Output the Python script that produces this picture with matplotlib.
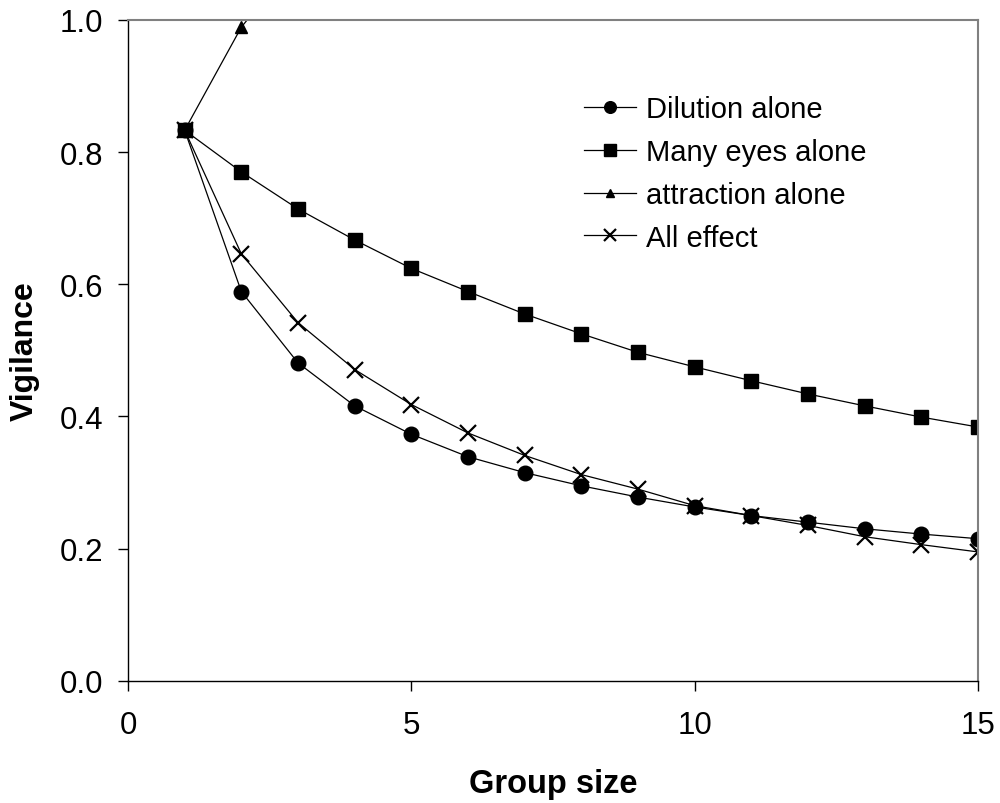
import matplotlib
matplotlib.use("Agg")
import matplotlib.pyplot as plt

plt.rcParams['font.family'] = ['Liberation Sans', 'DejaVu Sans']

group_size = list(range(1, 16))
dilution = [0.833, 0.589, 0.481, 0.416, 0.373, 0.339, 0.315, 0.295, 0.278,
            0.263, 0.250, 0.240, 0.230, 0.222, 0.215]
many_eyes = [0.833, 0.770, 0.714, 0.667, 0.624, 0.589, 0.555, 0.525, 0.497,
             0.475, 0.454, 0.434, 0.416, 0.399, 0.384]
attraction_x = [1, 2, 3]
attraction = [0.833, 0.989, 1.095]
all_effect = [0.833, 0.646, 0.542, 0.471, 0.418, 0.375, 0.341, 0.312, 0.290,
              0.265, 0.250, 0.235, 0.218, 0.206, 0.195]

x_ticks = [0, 5, 10, 15]
y_ticks = [0.0, 0.2, 0.4, 0.6, 0.8, 1.0]

fig = plt.figure(figsize=(10, 8.04), dpi=100)
ax = fig.add_axes([0.128, 0.152, 0.850, 0.822])

lw = 0.9
ax.plot(group_size, dilution, color='black', lw=lw, marker='o', ms=10.5,
        label='Dilution alone')
ax.plot(group_size, many_eyes, color='black', lw=lw, marker='s', ms=10.5,
        label='Many eyes alone')
ax.plot(attraction_x, attraction, color='black', lw=lw, marker='^', ms=8,
        label='attraction alone')
ax.plot(group_size, all_effect, color='black', lw=lw, marker='x', ms=11,
        mew=1.6, label='All effect')

ax.set_xlim(0, 15)
ax.set_ylim(0, 1.0)
ax.set_xticks(x_ticks)
ax.set_xticklabels([str(t) for t in x_ticks])
ax.set_yticks(y_ticks)
ax.set_yticklabels([f"{t:.1f}" for t in y_ticks])

ax.tick_params(axis='both', direction='out', length=7, width=1, labelsize=22.5,
               colors='black')
ax.tick_params(axis='y', pad=11)
ax.tick_params(axis='x', pad=14)

for s in ['left', 'bottom']:
    ax.spines[s].set_color('black')
    ax.spines[s].set_linewidth(1.0)
for s in ['top', 'right']:
    ax.spines[s].set_color('#808080')
    ax.spines[s].set_linewidth(1.5)

ax.set_xlabel('Group size', fontsize=23.5, fontweight='bold', labelpad=20)
ax.set_ylabel('Vigilance', fontsize=23, fontweight='bold', labelpad=14)

leg = ax.legend(loc='upper left', bbox_to_anchor=(0.5227, 0.904),
                borderaxespad=0, frameon=False,
                fontsize=21, handlelength=1.8, handletextpad=0.34,
                labelspacing=0.51, markerscale=0.8)

fig.savefig('out.png', dpi=100, facecolor='white')
